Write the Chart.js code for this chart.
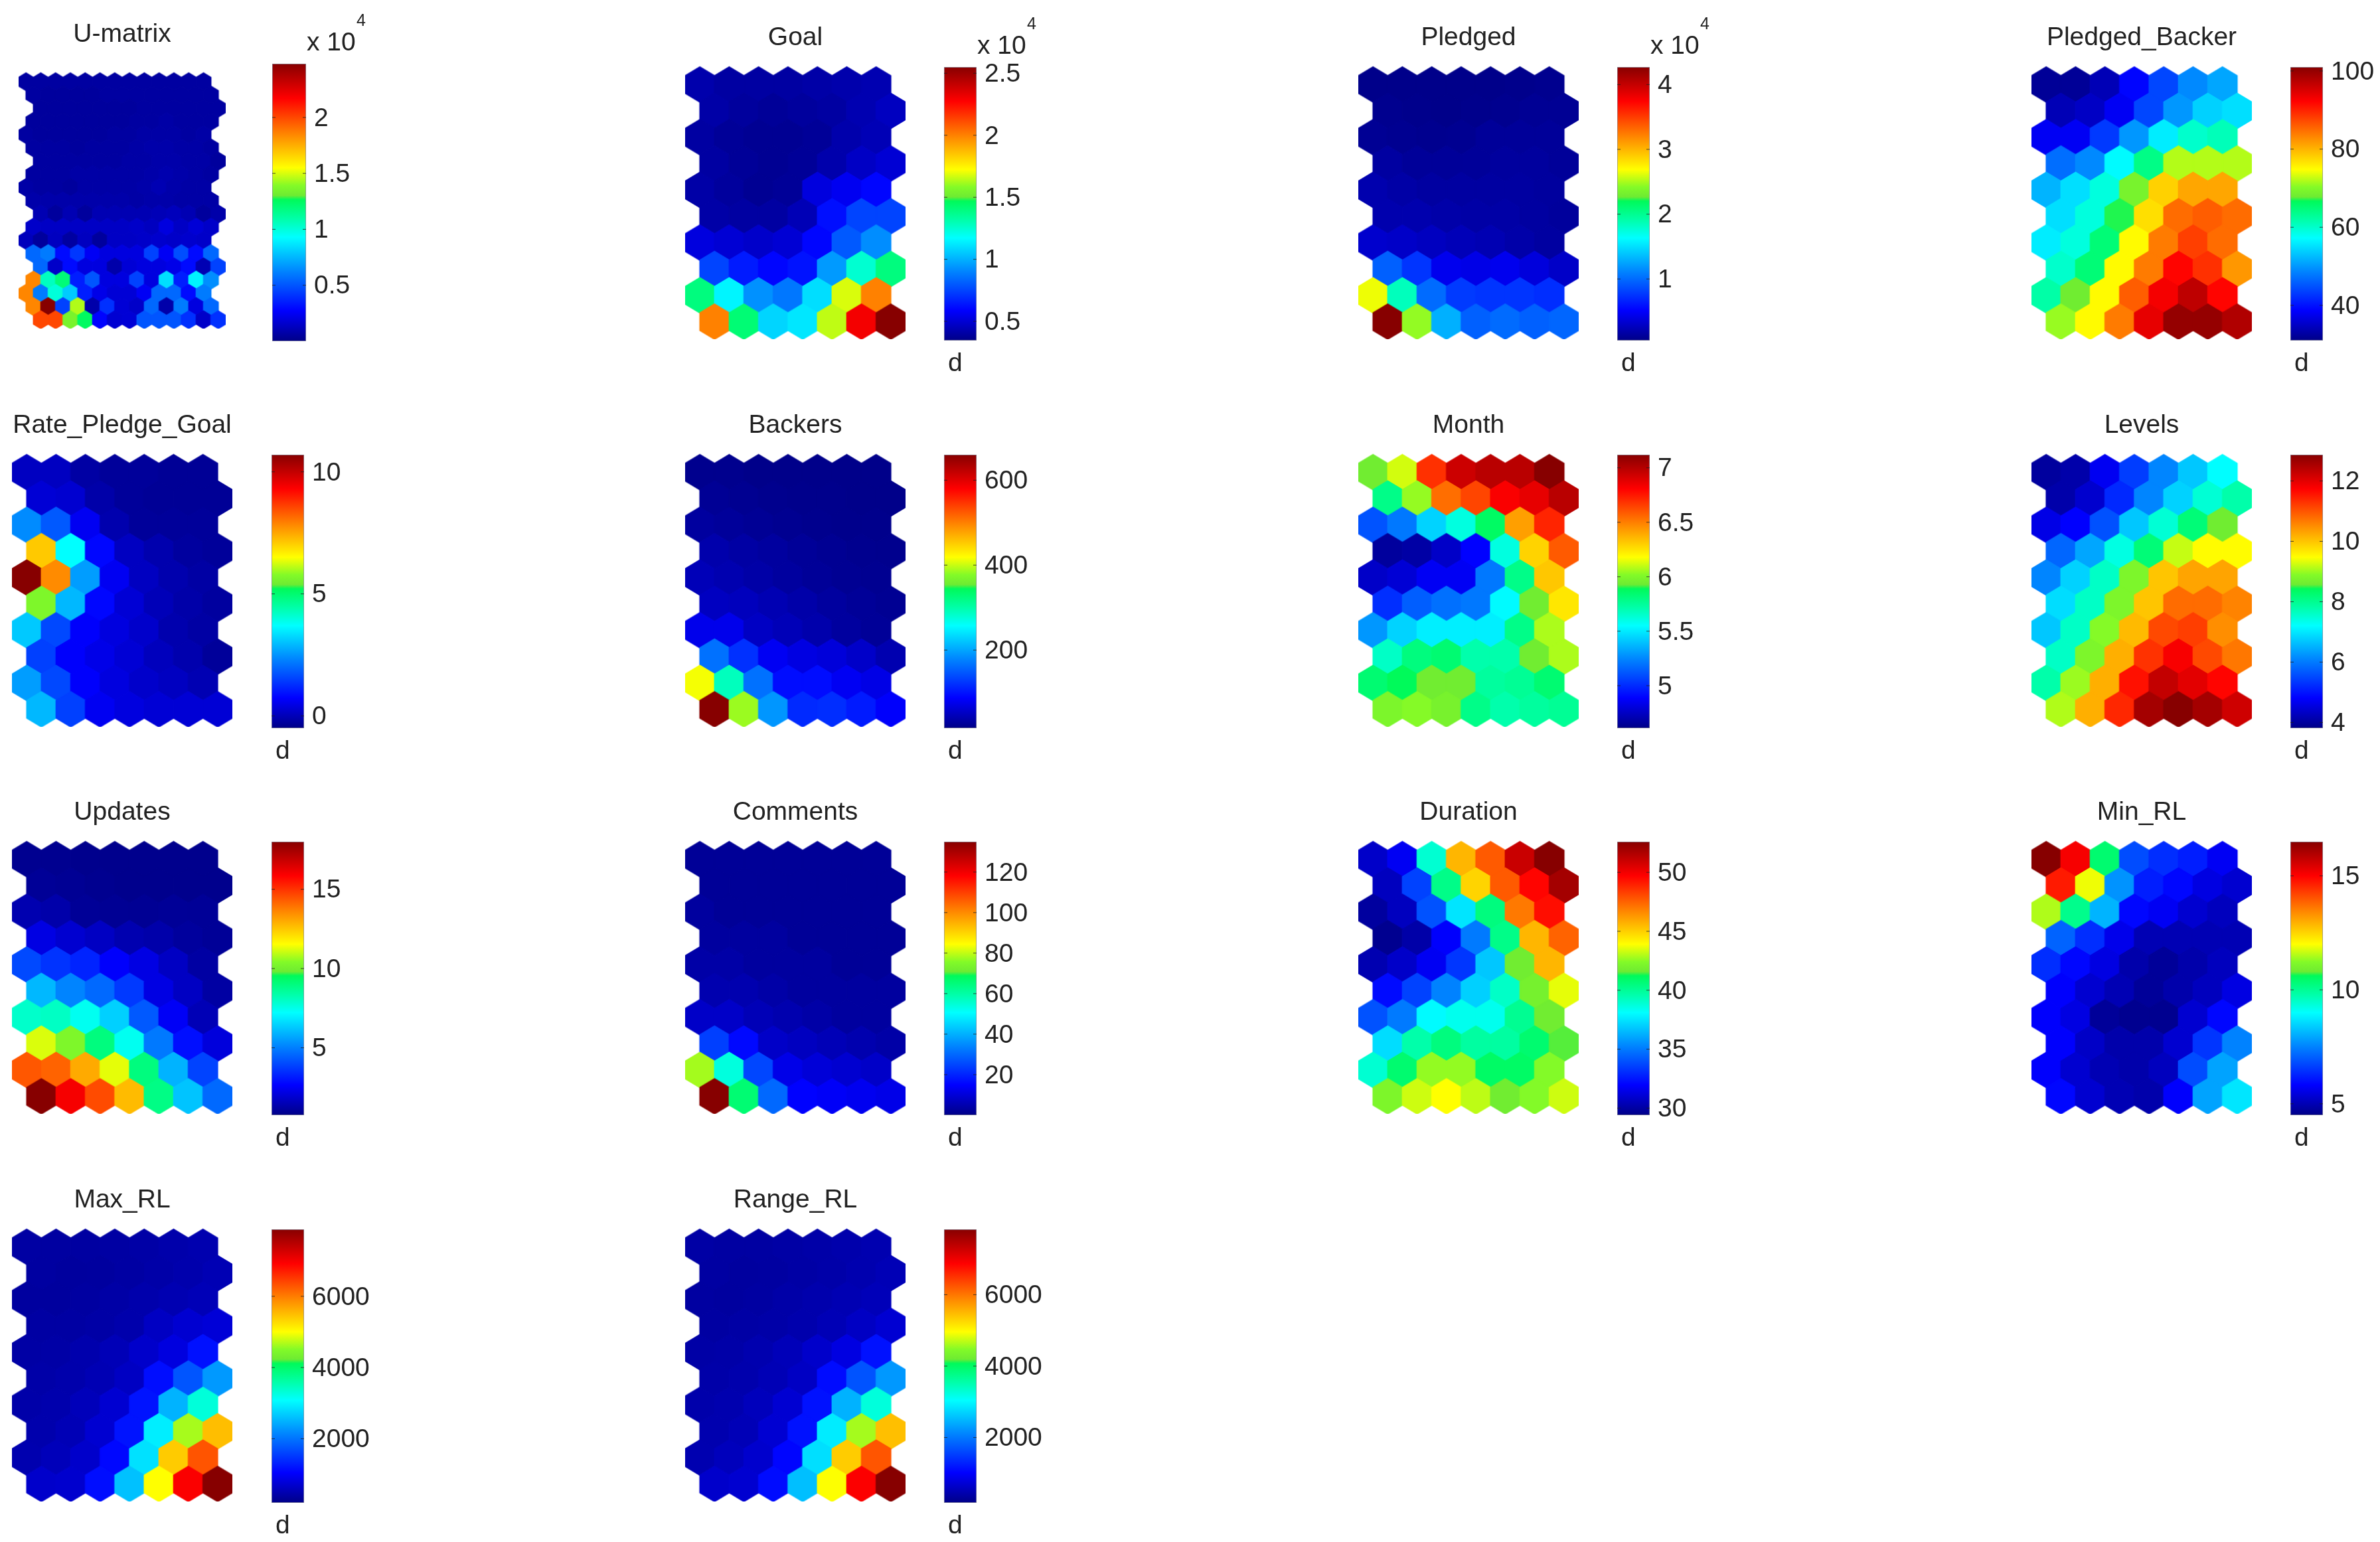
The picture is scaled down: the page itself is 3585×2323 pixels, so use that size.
<!DOCTYPE html>
<html>
<head>
    <script src="https://cdn.jsdelivr.net/npm/chart.js@4"></script>
    <style>
        body { margin: 0; background: #fff; }
        #page { position: relative; width: 3585px; height: 2323px; overflow: hidden; }
        canvas { position: absolute; filter: blur(0.7px); }
    </style>
</head>
<body>
    <div id="page"></div>

    <script>
        const uMatrix = [
            [.06,.06,.06,.06,.06,.06,.06,.06,.06,.06,.06,.06,.06],
            [.06,.05,.05,.05,.05,.06,.06,.06,.06,.06,.06,.06,.06],
            [.05,.05,.05,.05,.05,.05,.05,.06,.06,.06,.06,.06,.06],
            [.05,.05,.05,.05,.05,.05,.05,.06,.06,.07,.06,.06,.06],
            [.06,.05,.05,.05,.05,.05,.06,.06,.07,.07,.07,.06,.07],
            [.06,.06,.06,.05,.06,.06,.06,.07,.08,.08,.07,.07,.06],
            [.06,.06,.06,.06,.06,.06,.07,.07,.08,.08,.07,.07,.05],
            [.06,.06,.06,.07,.07,.07,.07,.07,.08,.09,.08,.07,.06],
            [.07,.06,.06,.05,.07,.07,.07,.07,.08,.1,.08,.07,.07],
            [.08,.08,.08,.08,.08,.08,.08,.07,.08,.08,.07,.07,.07],
            [.1,.05,.1,.05,.1,.1,.1,.1,.11,.12,.1,.05,.08],
            [.15,.14,.14,.14,.14,.14,.14,.15,.13,.2,.14,.18,.15],
            [.12,.05,.13,.06,.13,.05,.14,.14,.15,.16,.15,.16,.15],
            [.55,.6,.3,.42,.25,.2,.2,.2,.45,.25,.48,.3,.55],
            [.55,.15,.3,.2,.2,.08,.18,.2,.2,.22,.3,.1,.45],
            [1.85,1.05,1.2,.35,.5,.2,.2,.45,.2,.85,.35,.9,.65],
            [1.85,.6,1.0,.8,.35,.22,.18,.18,.25,.55,.55,.3,.6],
            [1.85,2.48,.45,1.45,.08,.4,.18,.15,.55,.08,.6,.2,.55],
            [2.0,2.0,1.35,1.25,.28,.17,.18,.5,.5,.5,.4,.15,.4]
        ];
        const goal = [
            [.42,.40,.40,.40,.41,.42,.43],
            [.41,.39,.38,.39,.40,.43,.46],
            [.40,.38,.37,.37,.38,.42,.44],
            [.40,.38,.37,.38,.42,.47,.50],
            [.41,.39,.37,.38,.52,.56,.60],
            [.41,.40,.40,.44,.62,.75,.75],
            [.52,.50,.48,.50,.60,.80,.92],
            [.75,.65,.60,.63,.95,1.25,1.4],
            [1.4,1.15,.93,.87,1.1,1.68,2.0],
            [2.0,1.42,1.08,1.12,1.65,2.3,2.55]
        ];
        const pledged = [
            [.06,.06,.06,.06,.06,.07,.08],
            [.08,.07,.06,.07,.08,.1,.1],
            [.1,.09,.08,.09,.12,.12,.12],
            [.15,.12,.12,.12,.14,.14,.12],
            [.2,.17,.15,.15,.15,.15,.14],
            [.2,.2,.18,.17,.17,.15,.13],
            [.32,.3,.27,.24,.22,.18,.15],
            [.95,.75,.45,.42,.45,.38,.3],
            [2.65,1.85,1.0,.78,.75,.75,.72],
            [4.27,2.45,1.3,.95,1.0,.95,.98]
        ];
        const pledgedBacker = [
            [32,32,34,39,44,49,51],
            [34,35,38,44,50,54,55],
            [38,38,43,50,56,60,61],
            [47,49,57,64,72,72,72],
            [52,55,59,69,78,81,81],
            [55,59,67,77,85,86,85],
            [56,59,65,75,84,88,85],
            [60,65,75,84,92,89,82],
            [62,68,75,86,93,97,92],
            [71,75,84,94,100,100,98]
        ];
        const ratePledgeGoal = [
            [.1,.1,-.2,-.3,-.3,-.35,-.35],
            [.3,.25,-.15,-.3,-.35,-.35,-.35],
            [2.4,1.8,.6,-.1,-.3,-.3,-.3],
            [7.1,3.7,.8,.1,-.1,-.25,-.3],
            [10.7,7.8,2.6,.6,.1,-.1,-.2],
            [5.7,2.9,.8,.3,0,-.15,-.25],
            [3.1,1.6,.7,.4,.2,-.1,-.2],
            [1.5,.7,.5,.3,.05,-.1,-.3],
            [2.6,1.6,.7,.4,.2,.1,-.05],
            [2.9,1.5,.6,.4,.3,.3,.3]
        ];
        const backers = [
            [20,20,18,18,18,18,18],
            [24,22,20,19,19,18,18],
            [30,27,24,22,20,19,19],
            [38,33,30,26,23,21,20],
            [45,40,35,30,26,23,22],
            [50,48,42,36,30,26,23],
            [75,75,52,45,38,30,26],
            [165,120,80,70,65,55,40],
            [415,290,165,95,95,80,72],
            [660,385,190,115,118,105,85]
        ];
        const month = [
            [5.94,6.12,6.69,6.94,6.99,6.99,7.12],
            [5.79,6.04,6.54,6.64,6.82,6.87,6.99],
            [5.11,5.21,5.44,5.61,5.87,6.42,6.72],
            [4.66,4.68,4.76,4.89,5.61,6.29,6.59],
            [4.76,4.79,4.86,4.86,5.21,5.79,6.32],
            [5.01,5.14,5.19,5.21,5.54,5.94,6.24],
            [5.29,5.44,5.51,5.51,5.51,5.79,6.07],
            [5.66,5.81,5.84,5.71,5.71,5.94,6.07],
            [5.84,5.89,5.94,5.94,5.74,5.76,5.84],
            [5.99,6.02,5.97,5.79,5.71,5.74,5.76]
        ];
        const levels = [
            [4.0,4.1,4.7,5.4,6.1,6.7,7.2],
            [4.1,4.4,5.2,6.1,6.8,7.5,7.8],
            [4.6,4.8,5.6,6.7,7.5,8.2,8.6],
            [5.8,6.4,7.4,8.2,9.2,9.5,9.5],
            [6.1,6.8,7.6,8.8,10.0,10.3,10.3],
            [6.9,7.6,8.8,10.0,10.8,10.8,10.6],
            [6.7,7.6,8.9,10.1,11.1,11.2,10.5],
            [7.6,8.8,10.2,11.3,11.8,11.1,10.7],
            [7.8,9.0,10.2,11.6,12.3,12.0,11.7],
            [9.1,10.2,11.4,12.6,12.87,12.6,12.2]
        ];
        const updates = [
            [.9,.9,.85,.85,.85,.85,.85],
            [1.0,.95,.9,.85,.85,.85,.85],
            [1.4,1.3,1.0,.95,.95,1.0,1.0],
            [2.2,1.9,1.7,1.4,1.3,1.1,1.0],
            [4.0,3.6,3.3,2.6,2.2,1.7,1.2],
            [6.0,5.1,4.6,3.7,2.2,1.7,1.2],
            [7.9,8.0,7.4,6.4,4.3,2.5,1.5],
            [11.2,10.3,9.0,7.4,4.9,2.9,2.1],
            [14.4,14.2,13.0,11.3,9.0,5.9,3.9],
            [18.0,16.0,14.6,12.7,8.9,6.2,4.6]
        ];
        const comments = [
            [2,2,2,2,2,2,2],
            [2,2,2,2,2,2,2],
            [3,2,2,2,2,2,2],
            [3,3,3,2,2,2,2],
            [4,4,3,3,3,2,2],
            [5,5,4,3,3,3,3],
            [8,8,6,5,4,3,3],
            [24,16,8,7,6,5,4],
            [78,54,25,12,10,9,8],
            [135,66,30,15,14,13,12]
        ];
        const duration = [
            [30.8,31.7,38.9,45.6,47.7,51,52.6],
            [30.6,33.6,40.3,44.9,47.7,49.6,51.9],
            [29.9,30.6,34,37.5,40.5,47,49.4],
            [29.6,30.1,31.9,35,40.3,45.6,47.5],
            [30.3,30.8,31.7,33.3,36.8,41.7,45.6],
            [32.2,33.6,35.2,37,39.1,41.9,43.6],
            [34,35,38,38.4,38.4,40.1,41.7],
            [37.3,39.6,40.5,39.8,39.8,40.8,41.5],
            [38.9,40.8,42.6,42.6,41,41,42.4],
            [42.2,43.3,43.9,43.1,41.7,42.4,43.3]
        ];
        const minRL = [
            [16.5,15.1,10.4,6.8,6.4,6.2,5.7],
            [14.7,11.9,7.7,6.2,5.9,5.5,5.3],
            [11.5,10.1,8.1,5.9,5.7,5.3,5.1],
            [7.1,6.4,5.6,5,5,5,5],
            [6.4,5.9,5.5,4.9,4.7,4.9,5.1],
            [5.8,5.3,5,4.7,4.9,5.1,5.5],
            [5.8,5.5,4.7,4.6,4.6,5.3,5.9],
            [5.8,5.2,4.9,4.9,5.3,6.5,7.5],
            [5.8,5.3,5,4.9,5.1,6.8,7.9],
            [5.9,5.3,5,4.9,5.8,7.9,8.7]
        ];
        const maxRL = [
            [400,380,380,400,420,450,480],
            [380,360,370,400,430,470,520],
            [370,360,380,420,460,500,540],
            [400,400,420,460,620,720,760],
            [410,420,470,540,680,820,1180],
            [430,460,520,620,1150,1750,2300],
            [440,470,560,720,1200,2500,3300],
            [470,530,720,1200,2950,4650,5500],
            [480,560,680,1100,2850,5400,6300],
            [680,700,1150,2600,5000,6950,7880]
        ];
        const rangeRL = [
            [380,360,360,380,400,430,460],
            [360,340,350,380,410,450,500],
            [350,340,360,400,440,480,520],
            [360,380,400,440,500,600,700],
            [390,400,450,520,650,800,1150],
            [410,440,500,600,1100,1700,2250],
            [420,450,540,700,1150,2450,3250],
            [450,510,700,1150,2900,4600,5450],
            [460,540,660,1050,2800,5350,6250],
            [650,680,1100,2550,4950,6900,7830]
        ];

        const panels = [
            { title: 'U-matrix', values: uMatrix, range: [0, 2.48], ticks: [0.5, 1, 1.5, 2], exponent: '4', col: 0, row: 0 },
            { title: 'Goal', values: goal, range: [0.345, 2.55], ticks: [0.5, 1, 1.5, 2, 2.5], exponent: '4', col: 1, row: 0 },
            { title: 'Pledged', values: pledged, range: [0.05, 4.27], ticks: [1, 2, 3, 4], exponent: '4', col: 2, row: 0 },
            { title: 'Pledged_Backer', values: pledgedBacker, range: [31, 101], ticks: [40, 60, 80, 100], col: 3, row: 0 },
            { title: 'Rate_Pledge_Goal', values: ratePledgeGoal, range: [-0.5, 10.7], ticks: [0, 5, 10], col: 0, row: 1 },
            { title: 'Backers', values: backers, range: [16, 660], ticks: [200, 400, 600], col: 1, row: 1 },
            { title: 'Month', values: month, range: [4.61, 7.12], ticks: [5, 5.5, 6, 6.5, 7], col: 2, row: 1 },
            { title: 'Levels', values: levels, range: [3.81, 12.87], ticks: [4, 6, 8, 10, 12], col: 3, row: 1 },
            { title: 'Updates', values: updates, range: [0.75, 18], ticks: [5, 10, 15], col: 0, row: 2 },
            { title: 'Comments', values: comments, range: [0, 135], ticks: [20, 40, 60, 80, 100, 120], col: 1, row: 2 },
            { title: 'Duration', values: duration, range: [29.4, 52.6], ticks: [30, 35, 40, 45, 50], col: 2, row: 2 },
            { title: 'Min_RL', values: minRL, range: [4.5, 16.5], ticks: [5, 10, 15], col: 3, row: 2 },
            { title: 'Max_RL', values: maxRL, range: [200, 7880], ticks: [2000, 4000, 6000], col: 0, row: 3 },
            { title: 'Range_RL', values: rangeRL, range: [170, 7830], ticks: [2000, 4000, 6000], col: 1, row: 3 }
        ];

        // page layout of the 4 x 4 grid
        const hexLeft = [18, 1032, 2046, 3060];
        const barLeft = [409, 1422, 2436, 3450];
        const rowTop = [101, 685, 1268, 1852];
        const FONT = '"Liberation Sans", Arial, sans-serif';
        const TEXT = '#222';
        const TEXT_SIZE = 39;

        // jet, as it came out in the picture (the greens are shifted)
        const colormap = [
            [0, 0, 0, 135], [0.11, 0, 0, 255], [0.25, 0, 130, 255], [0.375, 0, 255, 255],
            [0.44, 0, 255, 170], [0.51, 0, 250, 90], [0.525, 110, 235, 50], [0.56, 130, 250, 40],
            [0.625, 255, 255, 0], [0.75, 255, 130, 0], [0.875, 255, 0, 0], [1, 135, 0, 0]
        ];

        function colorAt(t) {
            t = Math.min(1, Math.max(0, t));
            for (let i = 1; i < colormap.length; i++) {
                const a = colormap[i - 1], b = colormap[i];
                if (t <= b[0]) {
                    const k = (t - a[0]) / (b[0] - a[0]);
                    return `rgb(${[1, 2, 3].map(j => Math.round(a[j] + (b[j] - a[j]) * k)).join(',')})`;
                }
            }
            return 'rgb(135,0,0)';
        }

        const hexCache = {};
        function hexImage(color, ux, uy) {
            const key = color + ux + uy;
            if (hexCache[key]) return hexCache[key];
            const c = document.createElement('canvas');
            c.width = Math.ceil(ux) + 4;
            c.height = Math.ceil(uy * 4 / 3) + 4;
            const g = c.getContext('2d');
            g.translate(c.width / 2, c.height / 2);
            g.beginPath();
            [[0, -2], [3, -1], [3, 1], [0, 2], [-3, 1], [-3, -1]].forEach(p => {
                g.lineTo(p[0] * ux / 6, p[1] * uy / 3);
            });
            g.closePath();
            g.fillStyle = color;
            g.strokeStyle = color;
            g.lineWidth = 1.5;
            g.fill();
            g.stroke();
            hexCache[key] = c;
            return c;
        }

        function addCanvas(left, top, width, height) {
            const c = document.createElement('canvas');
            c.width = width;
            c.height = height;
            c.style.left = left + 'px';
            c.style.top = top + 'px';
            document.getElementById('page').appendChild(c);
            return c;
        }

        function drawMap(p, box, titleGap) {
            const rows = p.values.length, cols = p.values[0].length;
            const big = rows > 10;     // the U-matrix has rows shifted in a 4 row cycle
            const shift = r => big ? [0, 0.5, 1, 0.5][r % 4] : r % 2 * 0.5;
            const xMax = cols - 0.5 + (big ? 1 : 0.5);
            const ux = box.w / (xMax + 0.5);
            const uy = box.h / (rows - 1 + 4 / 3);

            const points = [], styles = [];
            p.values.forEach((line, r) => line.forEach((v, c) => {
                points.push({ x: c + shift(r), y: r });
                styles.push(hexImage(colorAt((v - p.range[0]) / (p.range[1] - p.range[0])), ux, uy));
            }));

            const head = TEXT_SIZE * 1.2 + titleGap;
            new Chart(addCanvas(box.x, box.y - head, box.w, box.h + head), {
                type: 'scatter',
                data: { datasets: [{ data: points, pointStyle: styles, pointRadius: 10, clip: false }] },
                options: {
                    responsive: false,
                    animation: false,
                    layout: { padding: 0, autoPadding: false },
                    plugins: {
                        legend: { display: false },
                        tooltip: { enabled: false },
                        title: {
                            display: true,
                            text: p.title,
                            color: TEXT,
                            font: { family: FONT, size: TEXT_SIZE, weight: 'normal' },
                            padding: { top: 0, bottom: titleGap }
                        }
                    },
                    scales: {
                        x: { display: false, min: -0.5, max: xMax },
                        y: { display: false, reverse: true, min: -2 / 3, max: rows - 1 + 2 / 3 }
                    }
                }
            });
        }

        // tick marks inside the colour bar, the "d" under it and the "x 10^4" above it
        const barMarks = {
            id: 'barMarks',
            afterDraw(chart, args, opts) {
                const { ctx, chartArea: a, scales } = chart;
                ctx.save();
                ctx.strokeStyle = 'rgba(30,30,30,0.8)';
                ctx.lineWidth = 1;
                scales.y.ticks.forEach(t => {
                    const y = scales.y.getPixelForValue(t.value);
                    ctx.beginPath();
                    ctx.moveTo(a.left, y); ctx.lineTo(a.left + 5, y);
                    ctx.moveTo(a.right - 5, y); ctx.lineTo(a.right, y);
                    ctx.stroke();
                });
                ctx.fillStyle = TEXT;
                ctx.textBaseline = 'middle';
                ctx.font = TEXT_SIZE + 'px ' + FONT;
                if (opts.unit) ctx.fillText(opts.unit, a.left + 6, a.bottom + 35);
                if (opts.exponent) {
                    ctx.fillText('x 10', a.right + 1, a.top - 31);
                    ctx.font = '25px ' + FONT;
                    ctx.fillText(opts.exponent, a.right + 76, a.top - 64);
                }
                ctx.restore();
            }
        };

        function drawBar(p, box) {
            const above = 80, below = 58, side = 170;
            new Chart(addCanvas(box.x, box.y - above, box.w + side, box.h + above + below), {
                type: 'bar',
                data: {
                    labels: [''],
                    datasets: [{
                        data: [p.range],
                        barPercentage: 1,
                        categoryPercentage: 1,
                        borderSkipped: false,
                        borderWidth: 1,
                        borderColor: 'rgba(40,40,70,0.55)',
                        backgroundColor: ctx => {
                            const a = ctx.chart.chartArea;
                            if (!a) return '#00f';
                            const grad = ctx.chart.ctx.createLinearGradient(0, a.bottom, 0, a.top);
                            colormap.forEach(s => grad.addColorStop(s[0], `rgb(${s[1]},${s[2]},${s[3]})`));
                            return grad;
                        }
                    }]
                },
                options: {
                    responsive: false,
                    animation: false,
                    layout: { padding: { top: above, bottom: below } },
                    plugins: {
                        legend: { display: false },
                        tooltip: { enabled: false },
                        barMarks: { exponent: p.exponent, unit: p.title === 'U-matrix' ? '' : 'd' }
                    },
                    scales: {
                        x: { display: false },
                        y: {
                            position: 'right',
                            min: p.range[0],
                            max: p.range[1],
                            grid: { display: false, drawTicks: false },
                            border: { display: false },
                            ticks: {
                                color: TEXT,
                                padding: 12,
                                labelOffset: 2,
                                autoSkip: false,
                                font: { family: FONT, size: TEXT_SIZE },
                                callback: v => String(v)
                            },
                            afterBuildTicks: s => { s.ticks = p.ticks.map(v => ({ value: v })); },
                            afterFit: s => { s.width = side; s.paddingTop = 0; s.paddingBottom = 0; }
                        }
                    }
                },
                plugins: [barMarks]
            });
        }

        panels.forEach(p => {
            if (p.title === 'U-matrix') {
                drawMap(p, { x: 28, y: 110, w: 312, h: 386 }, 34);
                drawBar(p, { x: 410, y: 96, w: 51, h: 418 });
            } else {
                drawMap(p, { x: hexLeft[p.col], y: rowTop[p.row], w: 332, h: 411 }, 20);
                drawBar(p, { x: barLeft[p.col], y: rowTop[p.row], w: 49, h: 412 });
            }
        });
    </script>
</body>
</html>
